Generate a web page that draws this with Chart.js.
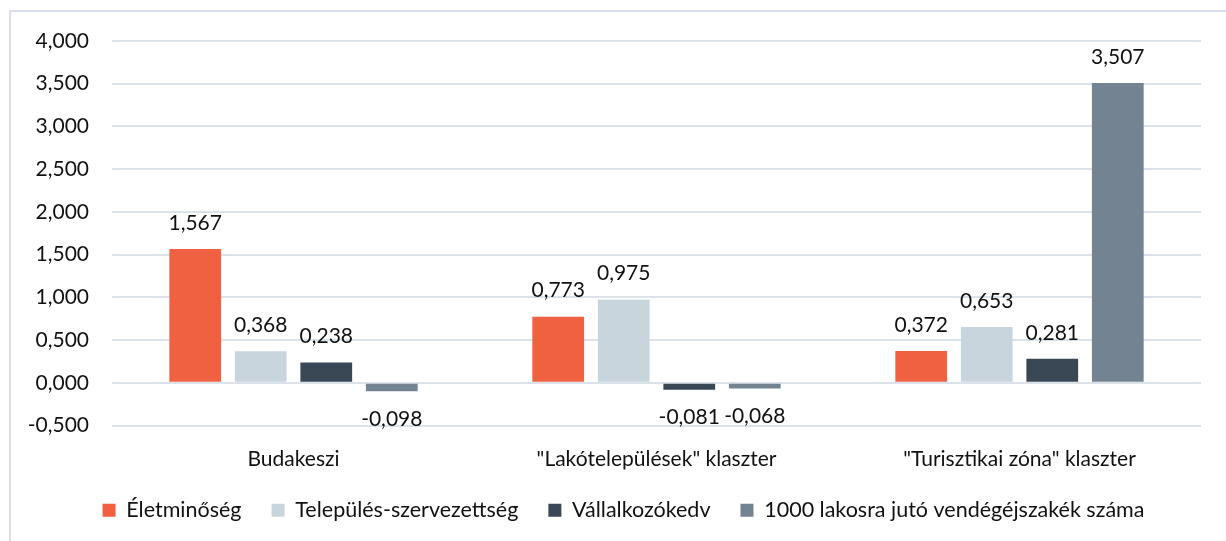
<!DOCTYPE html>
<html>
<head>
<meta charset="utf-8">
<script src="https://cdn.jsdelivr.net/npm/chart.js@4"></script>
<style>
  html, body { margin: 0; padding: 0; background: #fff; }
  #wrap { width: 1226px; height: 541px; position: relative; }
</style>
</head>
<body>
<div id="wrap"><canvas id="myChart" width="1226" height="541"></canvas></div>
<script>
/* global Chart */
var categories = ['Budakeszi', '"Lakótelepülések" klaszter', '"Turisztikai zóna" klaszter']
var seriesNames = ['Életminőség', 'Település-szervezettség', 'Vállalkozókedv', '1000 lakosra jutó vendégéjszakék száma']
var eletminoseg = [1.567, 0.773, 0.372]
var szervezettseg = [0.368, 0.975, 0.653]
var vallalkozokedv = [0.238, -0.081, 0.281]
var vendegejszakak = [-0.098, -0.068, 3.507]
var colors = ['#F06142', '#C9D5DD', '#3A4754', '#748391']

var fontFamily = 'Lato, "Open Sans", sans-serif'
var textColor = '#111'

function fmt (v) {
  return Number(v).toFixed(3).replace('.', ',')
}

// value labels above (or below, when negative) each bar
var valueLabels = {
  id: 'valueLabels',
  afterDatasetsDraw: function (chart) {
    var ctx = chart.ctx
    ctx.save()
    ctx.font = '21px ' + fontFamily
    ctx.fillStyle = textColor
    ctx.textAlign = 'center'
    ctx.textBaseline = 'middle'
    chart.data.datasets.forEach(function (ds, i) {
      chart.getDatasetMeta(i).data.forEach(function (bar, j) {
        var v = ds.data[j]
        var y = v >= 0 ? bar.y - 26 : bar.y + 28
        ctx.fillText(fmt(v), bar.x, y)
      })
    })
    ctx.restore()
  }
}

// chart frame (only left and top edges are visible in the picture)
var frame = {
  id: 'frame',
  beforeDraw: function (chart) {
    var ctx = chart.ctx
    ctx.save()
    ctx.strokeStyle = '#D9DFE8'
    ctx.lineWidth = 2
    ctx.beginPath()
    ctx.moveTo(10, 541)
    ctx.lineTo(10, 11)
    ctx.lineTo(1226, 11)
    ctx.stroke()
    ctx.restore()
  }
}

// legend sits a bit right of the plot centre in the original
var legendShift = {
  id: 'legendShift',
  afterLayout: function (chart) {
    chart.legend.left += 17
    chart.legend.right += 17
  }
}

var data = {
  labels: categories,
  datasets: [eletminoseg, szervezettseg, vallalkozokedv, vendegejszakak].map(function (arr, i) {
    return {
      label: seriesNames[i],
      data: arr,
      backgroundColor: colors[i],
      borderWidth: 0,
      categoryPercentage: 0.722,
      barPercentage: 0.79
    }
  })
}

var ctx = document.getElementById('myChart')
var myChart = new Chart(ctx, {
  type: 'bar',
  data: data,
  plugins: [frame, valueLabels, legendShift],
  options: {
    responsive: false,
    animation: false,
    layout: { padding: { top: 41, left: 12, right: 25, bottom: 10 } },
    plugins: {
      tooltip: { enabled: false },
      legend: {
        position: 'bottom',
        labels: {
          boxWidth: 13,
          boxHeight: 13,
          padding: 30,
          color: textColor,
          font: { family: fontFamily, size: 21.5 }
        }
      }
    },
    scales: {
      x: {
        grid: { display: false },
        border: { display: false },
        ticks: { color: textColor, padding: 13, font: { family: fontFamily, size: 21 } },
        afterFit: function (scale) { scale.height = 44 }
      },
      y: {
        min: -0.5,
        max: 4,
        grid: { color: '#DCE2EA', lineWidth: 2, drawTicks: false },
        border: { display: false },
        ticks: {
          stepSize: 0.5,
          padding: 23,
          color: textColor,
          font: { family: fontFamily, size: 21 },
          callback: function (v) { return fmt(v) }
        },
        afterFit: function (scale) { scale.width = 100 }
      }
    }
  }
})
console.log(myChart.chartArea)
</script>
</body>
</html>
